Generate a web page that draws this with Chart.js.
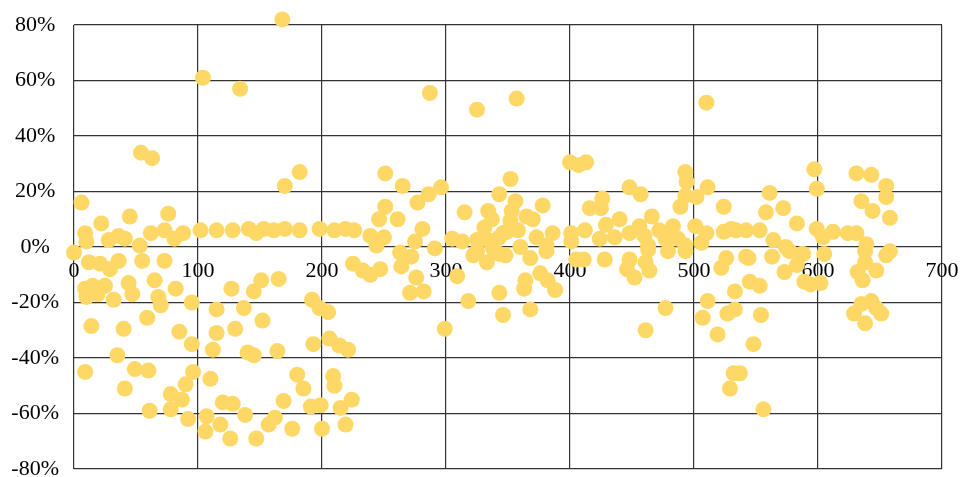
<!DOCTYPE html>
<html>
<head>
<meta charset="utf-8">
<script src="https://cdn.jsdelivr.net/npm/chart.js@4.4.1/dist/chart.umd.min.js"></script>
<style>
  html, body { margin: 0; padding: 0; background: #ffffff; }
  #wrap { width: 965px; height: 477px; position: relative; }
</style>
</head>
<body>
<div id="wrap"><canvas id="chart"></canvas></div>
<script>
// x position of each observation
const xValues = [
  0, 6, 9, 10, 9, 12, 21, 29, 36, 53, 55, 73, 9, 15, 25, 10, 19, 32, 44, 47, 65, 68, 70, 82, 95,
  14, 40, 59, 85, 95, 35, 49, 60, 41, 96, 90, 78, 87, 61, 78, 92, 54, 63, 22, 45, 76, 28, 36, 41, 62, 73, 81, 88,
  102, 104, 134, 168, 115, 128, 141, 147, 153, 161, 170, 170, 182, 182, 198, 107, 118, 106, 126, 147, 120, 128,
  138, 157, 162, 169, 110, 112, 115, 115, 127, 130, 137, 140, 145, 145, 151, 152, 164, 165, 176, 180, 185, 191, 199, 200,
  205, 198, 192, 193, 206, 214, 221, 209, 210, 215, 219, 224, 210, 219, 226, 239, 250, 244, 246, 251, 251, 261, 265,
  275, 277, 281, 286, 287, 291, 296, 225, 233, 239, 247, 263, 264, 272, 276, 271, 282, 299,
  305, 313, 315, 325, 325, 331, 334, 334, 337, 343, 343, 346, 352, 357, 356, 353, 352, 349, 358, 360, 365, 370, 373, 378, 381, 386,
  309, 318, 322, 333, 325, 338, 343, 343, 346, 348, 368, 381, 376, 382, 388, 364, 363, 368,
  400, 407, 413, 401, 401, 412, 416, 426, 425, 429, 424, 436, 440, 448, 448, 457, 456, 460, 463, 466, 472, 477, 483, 487, 489,
  493, 494, 493, 493, 405, 411, 428, 446, 448, 452, 461, 464, 463, 479, 493, 477, 461,
  501, 502, 506, 510, 510, 511, 524, 524, 530, 534, 542, 553, 558, 561, 564, 572, 574, 583, 587, 597, 599, 599,
  511, 507, 519, 527, 533, 522, 526, 532, 529, 542, 544, 563, 573, 577, 588, 583, 589, 594, 545, 553, 533, 554, 548, 537, 556,
  604, 612, 624, 631, 631, 639, 643, 655, 655, 635, 644, 658, 658, 605, 602, 638, 655, 638, 647, 632, 636, 629, 643, 651, 638, 635, 647
];

// value of each observation, in percent
const yValues = [
  -2, 16, 5, 2, -45, -5.5, -6, -8, -5, 0.5, -5, -5, -15, -14, -14, -18, -17, -19, -13, -17, -12, -18, -21, -15, -20,
  -28.5, -29.5, -25.5, -30.5, -35, -39, -44, -44.5, -51, -45, -49.5, -53, -55, -59, -58.5, -62, 34, 32, 8.5, 11, 12, 2.5, 4, 3, 5, 6, 3, 5,
  6, 61, 57, 82, 6, 6, 6.5, 5, 6.5, 6, 6.5, 22, 27, 6, 6.5, -61, -64, -66.5, -69, -69, -56, -56.5,
  -60.5, -64, -61.5, -55.5, -47.5, -37, -31, -22.5, -15, -29.5, -22, -38, -39, -16, -12, -26.5, -37.5, -11.5, -65.5, -46, -51, -57.5, -57, -65.5,
  -23.5, -22, -19, -35, -33, -35.5, -37, -46.5, -50, -58, -64, -55, 6, 6.5, 6, 4, 3.5, 0.5, 10, 14.5, 26.5, 10, 22,
  2, 16, 6.5, 19, 55.5, -0.5, 21.5, -6, -8.5, -10, -8, -2, -7, -3.5, -11, -16.5, -16, -29.5,
  3, 2, 12.5, 2.5, 49.5, 7, 2.5, 13, 10, 3.5, 19, 5, 24.5, 53.5, 16.5, 13, 9.5, 5.5, 6, 0, 11, 10, 3.5, 15, 0.5, 5,
  -10.5, -19.5, -3, -5.5, -1.5, -0.5, -2.5, -16.5, -24.5, -3, -4, -1.5, -9.5, -12, -15.5, -12, -15, -22.5,
  30.5, 29.5, 30.5, 5, 2, 6, 14, 17.5, 14, 8, 3, 3.5, 10, 21.5, 5, 19, 7.5, 4, 0.5, 11, 6, 3, 7.5, 3, 14.5,
  27, 23.5, 18.5, 0.5, -4.5, -4.5, -4.5, -8, -4.5, -11, -5.5, -8.5, -1, -1.5, -1.5, -22, -30,
  7.5, 18, 1.5, 52, 5, 21.5, 14.5, 5.5, 6.5, 6, 6, 6, 12.5, 19.5, 2.5, 14, 0, 8.5, -2.5, 28, 21, 6.5,
  -19.5, -25.5, -31.5, -24, -16, -7.5, -4, -45.5, -51, -3.5, -4, -3.5, -9, -1.5, -2.5, -6.5, -12.5, -13.5, -12.5, -14, -22.5, -24.5, -35, -45.5, -58.5,
  3.5, 5.5, 5, 5, 26.5, 1, 26, 22, 18, 16.5, 13, 10.5, -1.5, -2.5, -13, -1.5, -3, -5.5, -8.5, -9, -12, -24, -19.5, -24, -27.5, -20.5, -22
];

// axis ranges and tick spacing
const xRange = [0, 700];
const xStep = 100;
const yRange = [-80, 80];
const yStep = 20;

const points = xValues.map((x, i) => ({ x: x, y: yValues[i] }));

const labelFont = { family: "'Liberation Serif', 'Times New Roman', serif", size: 22 };
const gridStyle = { color: '#333333', lineWidth: 1.2, drawTicks: false };

new Chart(document.getElementById('chart'), {
  type: 'scatter',
  data: {
    datasets: [{
      data: points,
      backgroundColor: 'rgb(254, 216, 102)',
      borderWidth: 0,
      pointRadius: 8,
      pointHoverRadius: 8,
      clip: false
    }]
  },
  options: {
    responsive: true,
    maintainAspectRatio: false,
    animation: false,
    events: [],
    layout: { padding: { top: 25, right: 23, bottom: 5, left: 0 } },
    plugins: { legend: { display: false }, tooltip: { enabled: false } },
    scales: {
      x: {
        type: 'linear',
        position: { y: 0 },
        min: xRange[0],
        max: xRange[1],
        ticks: { stepSize: xStep, font: labelFont, color: '#000000', padding: 11, maxRotation: 0, autoSkip: false },
        grid: gridStyle,
        border: { display: false },
        afterFit(scale) { scale.height = 0; scale.paddingLeft = 0; scale.paddingRight = 0; }
      },
      y: {
        type: 'linear',
        min: yRange[0],
        max: yRange[1],
        ticks: {
          stepSize: yStep,
          font: labelFont,
          color: '#000000',
          padding: 15,
          crossAlign: 'center',
          callback: (v) => v + '%'
        },
        grid: gridStyle,
        border: { display: false },
        afterFit(scale) { scale.width = 74; scale.paddingTop = 0; scale.paddingBottom = 0; }
      }
    }
  }
});
</script>
</body>
</html>
